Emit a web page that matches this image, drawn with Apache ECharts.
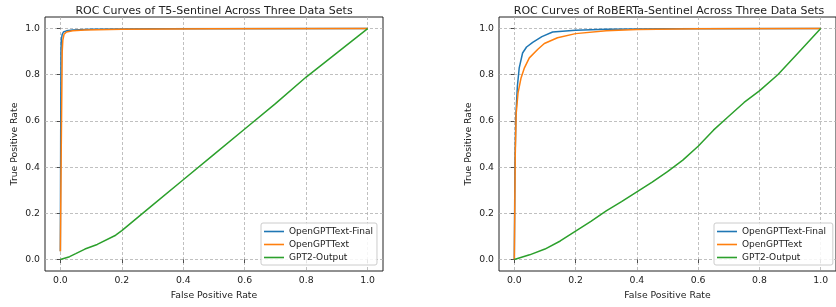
<!DOCTYPE html>
<html>
<head>
<meta charset="utf-8">
<script src="https://cdn.jsdelivr.net/npm/echarts@6/dist/echarts.min.js"></script>
<style>
  html, body { margin: 0; padding: 0; background: #fff; }
  #chart { width: 836px; height: 307px; }
</style>
</head>
<body>
<div id="chart"></div>
<script>
const seriesNames = ["OpenGPTText-Final", "OpenGPTText", "GPT2-Output"];
const colors = ["#1f77b4", "#ff7f0e", "#2ca02c"];
const tickValues = [0, 0.2, 0.4, 0.6, 0.8, 1.0];
const titles = [
  "ROC Curves of T5-Sentinel Across Three Data Sets",
  "ROC Curves of RoBERTa-Sentinel Across Three Data Sets"
];

// T5-Sentinel  [fpr, tpr]
const t5Final = [[0, 0.035], [0.001, 0.5], [0.002, 0.9], [0.003, 0.95], [0.006, 0.975], [0.01, 0.985], [0.02, 0.99], [0.04, 0.994], [0.1, 0.997], [0.3, 0.999], [1, 1]];
const t5Text = [[0, 0.035], [0.003, 0.5], [0.006, 0.9], [0.008, 0.95], [0.012, 0.975], [0.02, 0.985], [0.04, 0.99], [0.08, 0.994], [0.2, 0.997], [0.5, 0.999], [1, 1]];
const t5Gpt2 = [[0, 0], [0.03, 0.012], [0.05, 0.025], [0.08, 0.045], [0.12, 0.065], [0.18, 0.105], [0.2, 0.125], [0.3, 0.235], [0.4, 0.345], [0.5, 0.455], [0.6, 0.565], [0.7, 0.675], [0.8, 0.79], [0.9, 0.895], [1, 1]];

// RoBERTa-Sentinel
const rbFinal = [[0, 0], [0.002, 0.4], [0.005, 0.62], [0.01, 0.75], [0.016, 0.83], [0.027, 0.894], [0.04, 0.92], [0.06, 0.94], [0.09, 0.965], [0.125, 0.985], [0.2, 0.993], [0.3, 0.997], [0.5, 0.999], [1, 1]];
const rbText = [[0, 0], [0.003, 0.45], [0.006, 0.63], [0.012, 0.72], [0.022, 0.786], [0.033, 0.83], [0.049, 0.873], [0.076, 0.909], [0.098, 0.935], [0.141, 0.96], [0.2, 0.978], [0.3, 0.99], [0.4, 0.996], [0.6, 0.999], [1, 1]];
const rbGpt2 = [[0, 0], [0.05, 0.02], [0.1, 0.045], [0.15, 0.08], [0.2, 0.123], [0.25, 0.165], [0.3, 0.21], [0.35, 0.25], [0.4, 0.293], [0.45, 0.335], [0.5, 0.38], [0.55, 0.43], [0.6, 0.49], [0.65, 0.56], [0.7, 0.62], [0.75, 0.68], [0.8, 0.73], [0.86, 0.8], [0.93, 0.9], [1, 1]];

const panels = [[t5Final, t5Text, t5Gpt2], [rbFinal, rbText, rbGpt2]];

const font = "DejaVu Sans";
const grids = [
  { left: 45, top: 17, width: 338, height: 254 },
  { left: 499, top: 17, width: 339, height: 254 }
];
const legendPos = [{ left: 261, top: 223 }, { left: 714, top: 223 }];
const titleCenters = [209, 664];

function axisCommon(name, isX) {
  return {
    type: "value",
    min: -0.05,
    max: 1.05,
    name: name,
    nameLocation: "middle",
    nameGap: isX ? 20 : 26,
    nameTextStyle: { fontFamily: font, fontSize: 9.3, color: "#222" },
    axisLine: { show: false },
    axisTick: { show: true, length: 3.5, customValues: tickValues, lineStyle: { color: "#222", width: 0.8 } },
    axisLabel: {
      customValues: tickValues,
      fontFamily: font, fontSize: 9.3, color: "#222", margin: 5,
      formatter: v => v.toFixed(1)
    },
    splitLine: { show: true, lineStyle: { color: "#b0b0b0", type: [3, 2], width: 0.8 } }
  };
}

const chart = echarts.init(document.getElementById("chart"), null, { renderer: "canvas" });
const option = {
  animation: false,
  backgroundColor: "#fff",
  title: titles.map((t, i) => ({
    text: t,
    left: titleCenters[i],
    top: 1,
    textAlign: "center",
    textStyle: { fontFamily: font, fontSize: 11, fontWeight: "normal", color: "#222" }
  })),
  grid: grids.map(g => Object.assign({ show: true, borderColor: "#222", borderWidth: 1, backgroundColor: "transparent" }, g)),
  xAxis: grids.map((g, i) => Object.assign(axisCommon("False Positive Rate", true), { gridIndex: i })),
  yAxis: grids.map((g, i) => Object.assign(axisCommon("True Positive Rate", false), { gridIndex: i })),
  legend: legendPos.map((p, i) => ({
    orient: "vertical",
    left: p.left,
    top: p.top,
    data: seriesNames.map(n => n + (i === 1 ? " " : "")),
    icon: "rect",
    itemWidth: 20,
    itemHeight: 1.6,
    itemGap: 4,
    padding: [4, 4, 3, 3],
    backgroundColor: "rgba(255,255,255,0.85)",
    borderColor: "#cccccc",
    borderWidth: 1,
    borderRadius: 2,
    textStyle: { fontFamily: font, fontSize: 9, color: "#222" }
  })),
  series: []
};

panels.forEach((curves, pi) => {
  curves.forEach((data, si) => {
    option.series.push({
      name: seriesNames[si] + (pi === 1 ? " " : ""),
      type: "line",
      xAxisIndex: pi,
      yAxisIndex: pi,
      data: data,
      showSymbol: false,
      symbol: "none",
      color: colors[si],
      lineStyle: { width: 1.5, color: colors[si] },
      z: 3 + si
    });
  });
});

chart.setOption(option);
</script>
</body>
</html>
